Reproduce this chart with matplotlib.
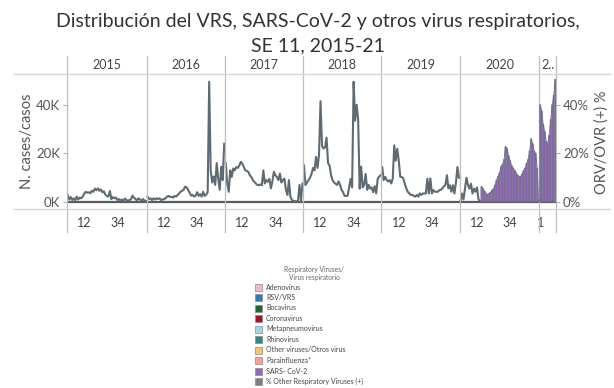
import matplotlib
matplotlib.use("Agg")
import matplotlib.pyplot as plt
from matplotlib.lines import Line2D
from matplotlib.patches import Rectangle
from matplotlib.ticker import FuncFormatter

plt.rcParams['font.family'] = ['Lato', 'DejaVu Sans']

W, H = 614, 388

year_heads = ["2015", "2016", "2017", "2018", "2019", "2020", "2.."]
weeks_in_year = [53, 52, 52, 52, 52, 53, 11]
week_ticks = [12, 34]

# weekly cases, thousands
cases_2015 = [2.8, 1.0, 2.0, 0.8, 1.5, 0.7, 2.2, 1.0, 1.8, 1.5, 2.2, 3.5, 4.2, 3.8, 4.0, 3.6, 4.6, 4.2,
              5.5, 4.8, 5.6, 4.6, 5.2, 4.0, 4.4, 3.0, 2.5, 2.2, 4.5, 1.2, 2.0, 1.5, 1.8, 0.8, 1.2, 0.6,
              1.0, 0.4, 1.4, 0.8, 0.5, 0.8, 1.0, 2.6, 1.8, 1.2, 0.7, 1.5, 1.0, 0.5, 1.2, 0.6, 0.4]
cases_2016 = [2.2, 1.2, 1.5, 0.8, 1.5, 1.0, 1.5, 1.2, 1.5, 0.8, 1.0, 1.2, 1.5, 2.2, 2.5, 2.0, 2.2, 1.8,
              2.5, 2.2, 2.9, 3.5, 4.2, 4.6, 5.0, 6.3, 6.0, 5.0, 3.8, 2.6, 2.9, 2.2, 2.6, 4.0, 2.5, 3.2,
              2.2, 4.2, 2.5, 3.0, 4.0, 49.5, 13.0, 8.0, 10.5, 7.0, 16.0, 9.5, 5.0, 14.5, 9.0, 24.0]
cases_2017 = [16.0, 7.6, 4.2, 13.0, 10.3, 13.8, 13.0, 14.4, 14.0, 15.0, 16.5, 15.8, 14.5, 13.0, 12.8,
              12.4, 11.0, 10.3, 9.0, 8.3, 7.6, 7.0, 6.9, 7.2, 6.9, 13.0, 7.6, 9.0, 8.3, 9.5, 5.6, 8.5,
              12.4, 11.0, 10.3, 9.0, 11.7, 8.0, 9.0, 9.6, 5.0, 2.9, 9.0, 2.2, 0.8, 0.5, 0.3, 0.3, 0.3,
              7.0, 0.5, 7.6]
cases_2018 = [15.0, 7.0, 8.0, 9.0, 10.0, 11.5, 14.0, 13.0, 18.5, 14.0, 19.5, 41.5, 23.0, 22.0, 22.5,
              26.5, 16.0, 15.0, 11.0, 9.0, 8.0, 7.5, 7.0, 8.5, 7.0, 5.0, 4.0, 2.5, 2.5, 2.5, 6.0, 9.5,
              6.0, 49.5, 33.5, 40.0, 34.0, 5.5, 14.5, 6.0, 7.0, 11.5, 5.0, 7.0, 5.5, 6.0, 4.0, 6.5, 3.5,
              9.5, 10.5, 11.0]
cases_2019 = [14.4, 9.0, 10.3, 9.0, 8.4, 9.0, 7.6, 9.7, 23.3, 17.0, 21.9, 17.0, 10.3, 10.3, 9.7, 7.5,
              5.6, 4.2, 3.5, 2.9, 2.9, 2.5, 2.2, 2.9, 2.2, 3.5, 2.9, 3.5, 3.5, 3.5, 9.6, 3.5, 9.7, 3.5,
              4.9, 4.2, 4.2, 4.2, 4.9, 5.0, 5.6, 6.5, 6.9, 11.0, 5.6, 6.9, 4.2, 6.9, 3.5, 8.0, 14.4, 10.0]
cases_2020 = [0.3, 3.5, 1.0, 5.5, 10.0, 7.0, 5.5, 7.5, 3.5, 5.5, 4.2, 6.0, 1.0, 0.3]

# SARS-CoV-2 share, % (2020 from week 15, 2021 from week 1)
sars_first_week_2020 = 15
sars_2020 = [6.3, 5.5, 4.5, 3.5, 3.0, 3.5, 4.0, 4.8, 5.5, 7.0, 9.0, 10.5, 12.0, 14.5, 15.5, 17.5, 22.8,
             22.0, 19.0, 17.0, 15.0, 14.0, 13.0, 12.0, 11.0, 10.5, 10.5, 11.5, 13.0, 14.0, 16.0, 17.5,
             21.0, 26.0, 24.0, 21.0, 20.0, 14.0, 1.0]
sars_2021 = [40.0, 37.5, 32.0, 29.0, 25.0, 24.0, 27.5, 34.0, 40.0, 44.0, 50.5]

legend_names = ["Adenovirus", "RSV/VRS", "Bocavirus", "Coronavirus", "Metapneumovirus", "Rhinovirus",
                "Other viruses/Otros virus", "Parainfluenza*", "SARS- CoV-2",
                "% Other Respiratory Viruses (+)"]
legend_colors = ["#f2b5d4", "#2b7bba", "#1a6b2c", "#a2122b", "#9ed6e0", "#2a8c7e",
                 "#fdbf6f", "#ff9d9a", "#9467bd", "#7f7f7f"]

line_color = "#5f6b73"
sars_color = "#8f62b8"


def fx(px):
    return px / W


def fy(py):
    return 1 - py / H


fig = plt.figure(figsize=(W / 100, H / 100), dpi=100)
ax = fig.add_axes([fx(67), fy(209), (556 - 67) / W, (209 - 74) / H])
ax2 = ax.twinx()

offsets = [sum(weeks_in_year[:i]) for i in range(len(weeks_in_year))]
total = sum(weeks_in_year)

for off, vals in zip(offsets, [cases_2015, cases_2016, cases_2017, cases_2018, cases_2019, cases_2020]):
    xs = [off + i + 0.5 for i in range(len(vals))]
    ax.plot(xs, vals, color=line_color, lw=1.5, solid_joinstyle='round')

# bars for 2020 and 2021
x20 = [offsets[5] + sars_first_week_2020 - 0.5 + i for i in range(len(sars_2020))]
x21 = [offsets[6] + 0.5 + i for i in range(len(sars_2021))]
for xs, vals in [(x20, sars_2020), (x21, sars_2021)]:
    bars = ax2.bar(xs, vals, width=0.95, color=sars_color, edgecolor=line_color, linewidth=0.25)
    for b in bars:
        b.set_snap(False)
    ax2.plot(xs, vals, color=line_color, lw=0.7, alpha=0.8)

ax.axhline(0, color="#5b5b5b", lw=1.6, zorder=1)

ylo, yhi = -2.9, 52.7
for a in (ax, ax2):
    a.set_ylim(ylo, yhi)
    a.set_xlim(0, total)
    for s in a.spines.values():
        s.set_visible(False)
    a.set_yticks([0, 20, 40])
    a.tick_params(axis='y', length=3, width=0.8, color="#b0b0b0", labelsize=9.5,
                  labelcolor="#555555", pad=2)
ax.yaxis.set_major_formatter(FuncFormatter(lambda v, p: f"{v:.0f}K"))
ax2.yaxis.set_major_formatter(FuncFormatter(lambda v, p: f"{v:.0f}%"))

# week ticks under each year
tick_pos, tick_lab = [], []
for off, n in zip(offsets, weeks_in_year):
    for w in week_ticks:
        if w <= n:
            tick_pos.append(off + w - 0.5)
            tick_lab.append(str(w))
    if n < week_ticks[0]:
        tick_pos.append(off + 0.5)
        tick_lab.append("1")
ax.set_xticks(tick_pos)
ax.set_xticklabels(tick_lab)
ax.tick_params(axis='x', length=0, labelsize=9, labelcolor="#444444", pad=6)
ax2.tick_params(axis='x', length=0)

# panel separators and year headers
bounds = offsets + [total]
for b in bounds:
    ax.axvline(b, ymin=-(232 - 209) / 135, ymax=(209 - 56) / 135, clip_on=False,
               color="#bdbdbd", lw=0.9)
for off, n, head in zip(offsets, weeks_in_year, year_heads):
    ax.text(off + n / 2, (209 - 65) / 135, head, transform=ax.get_xaxis_transform(),
            ha='center', va='center', fontsize=9, color="#444444")

for py in (74, 209):
    fig.add_artist(Line2D([fx(14), fx(610)], [fy(py), fy(py)], color="#d6d6d6", lw=1))

fig.text(fx(27), fy(141), "N. cases/casos", rotation=90, ha='center', va='center',
         fontsize=10.5, color="#555555")
fig.text(fx(602), fy(142), "ORV/OVR (+) %", rotation=90, ha='center', va='center',
         fontsize=10.5, color="#555555")

fig.text(fx(318), fy(22), "Distribución del VRS, SARS-CoV-2 y otros virus respiratorios,",
         ha='center', va='center', fontsize=14, color="#333333")
fig.text(fx(318), fy(46), "SE 11, 2015-21", ha='center', va='center', fontsize=14, color="#333333")

# legend
fig.text(fx(314), fy(273.5), "Respiratory Viruses/\nVirus respiratorio", ha='center', va='center',
         fontsize=4.8, color="#666666", linespacing=1.3)
for i, (name, col) in enumerate(zip(legend_names, legend_colors)):
    yc = 287 + 10.5 * i
    fig.add_artist(Rectangle((fx(255), fy(yc + 3.5)), 7 / W, 7 / H, facecolor=col,
                             edgecolor="#8a8a8a", lw=0.5))
    fig.text(fx(266), fy(yc), name, ha='left', va='center', fontsize=5, color="#444444")

fig.savefig("out.png", dpi=100)
